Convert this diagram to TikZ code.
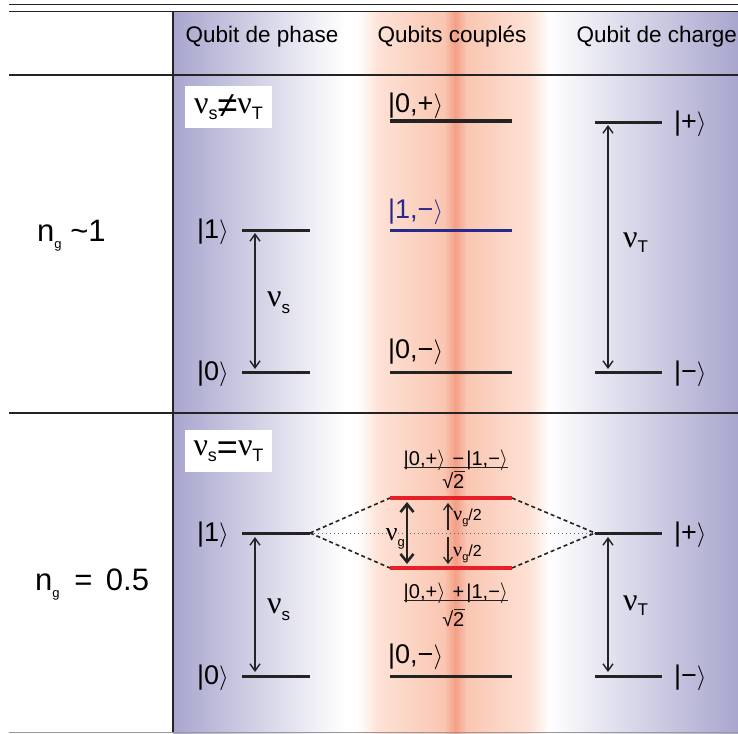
\documentclass[tikz,border=0pt]{standalone}
\usepackage{fontspec}
\setmainfont{Liberation Sans}
\newfontfamily\grk{Liberation Serif}
\usetikzlibrary{arrows.meta}
\definecolor{qblue}{RGB}{168,166,206}
\definecolor{qoA}{RGB}{253,226,214}
\definecolor{qoB}{RGB}{250,198,178}
\definecolor{qoC}{RGB}{243,158,133}
\definecolor{qred}{RGB}{230,32,40}
\definecolor{qnavy}{RGB}{38,42,140}
\definecolor{qline}{RGB}{35,35,35}
\newcommand\kt[1]{|#1$\rangle$}
\newcommand\nusub[4]{{\fontsize{#1}{#1}\grk ν}\raisebox{-#3pt}{\fontsize{#2}{#2}\selectfont #4}}
\begin{document}
\begin{tikzpicture}[x=1pt,y=-1pt,
 level/.style={line width=3pt,draw=qline},
 redlevel/.style={line width=3.6pt,draw=qred},
 bluelevel/.style={line width=3pt,draw=qnavy},
 frameline/.style={line width=1.5pt,draw=qline},
 dbl/.style={line width=1.4pt,draw=qline,{Straight Barb[length=7pt,width=10pt]}-{Straight Barb[length=7pt,width=10pt]}},
 dblthick/.style={line width=2.6pt,draw=qline,{Straight Barb[length=8pt,width=13pt]}-{Straight Barb[length=8pt,width=13pt]}},
 sarrow/.style={line width=1.2pt,draw=qline,-{Straight Barb[length=6pt,width=9pt]}},
 splitline/.style={line width=1.6pt,draw=qline,dash pattern=on 4pt off 3pt},
 midline/.style={line width=0.7pt,draw=black!60,dash pattern=on 1pt off 3pt},
 hdr/.style={font=\fontsize{22.5}{27}\selectfont,inner sep=0pt},
 ket/.style={font=\fontsize{27}{31}\selectfont,inner sep=0pt},
 ketblue/.style={ket,text=qnavy},
 nulbl/.style={font=\fontsize{32}{36}\selectfont,inner sep=0pt},
 ng/.style={font=\fontsize{31}{35}\selectfont,inner sep=0pt},
 fracpart/.style={font=\fontsize{20}{24}\selectfont,inner sep=0pt},
 fracnum/.style={fracpart,text depth=0pt},
 halflbl/.style={font=\fontsize{16}{20}\selectfont,inner sep=0pt},
 condbox/.style={fill=white,minimum width=87pt,minimum height=42pt,inner sep=0pt,font=\fontsize{32}{36}\selectfont}
]
\useasboundingbox (0,0) rectangle (738,733);
\fill[white] (0,0) rectangle (738,733);
% background shading
\shade[left color=qblue,right color=white] (173,12) rectangle (345,733);
\shade[left color=white,right color=qoA] (357,12) rectangle (378.5,733);
\shade[left color=qoA,right color=qoB] (378,12) rectangle (444.5,733);
\shade[left color=qoB,right color=qoC] (444,12) rectangle (455.5,733);
\shade[left color=qoC,right color=qoB] (455,12) rectangle (466.5,733);
\shade[left color=qoB,right color=qoA] (466,12) rectangle (530.5,733);
\shade[left color=qoA,right color=white] (530,12) rectangle (550,733);
\shade[left color=white,right color=qblue] (548,12) rectangle (738,733);
% frame
\draw[frameline] (9,4.5) -- (738,4.5);
\draw[frameline] (9,11.5) -- (738,11.5);
\draw[frameline] (9,75) -- (738,75);
\draw[frameline] (9,413) -- (738,413);
\draw[frameline] (173,11.5) -- (173,733);
\draw[line width=1pt,draw=black!40] (9,732) -- (738,732);
% headers
\node[hdr] (h1) at (262,37) {Qubit de phase};
\node[hdr] (h2) at (452,37) {Qubits couplés};
\node[hdr,anchor=east] (h3) at (737,37) {Qubit de charge};
% row labels
\node[ng,anchor=base west] (ng1) at (37,241) {n\raisebox{-7pt}{\fontsize{13}{13}\selectfont g} \textasciitilde1};
\node[ng,anchor=base west] (ng2) at (35,590) {n\raisebox{-7pt}{\fontsize{13}{13}\selectfont g}\hspace{6pt} =\hspace{5pt} 0.5};
% condition boxes
\node[condbox] (cb1) at (228.5,107) {\nusub{32}{18}{6}{s}\raisebox{-4pt}{\fontsize{36}{36}\selectfont ≠}\nusub{32}{18}{6}{T}};
\node[condbox] (cb2) at (228.5,451) {\nusub{32}{18}{6}{s}\raisebox{-4pt}{\fontsize{36}{36}\selectfont =}\nusub{32}{18}{6}{T}};
% ---------- top section coordinates
\coordinate (pa1) at (242,230); \coordinate (pb1) at (310,230);
\coordinate (pa0) at (242,372); \coordinate (pb0) at (310,372);
\coordinate (ca2) at (390,121); \coordinate (cb2) at (512,121);
\coordinate (ca1) at (390,230); \coordinate (cb1) at (512,230);
\coordinate (ca0) at (390,372); \coordinate (cb0) at (512,372);
\coordinate (ta1) at (595,122); \coordinate (tb1) at (662,122);
\coordinate (ta0) at (595,372); \coordinate (tb0) at (662,372);
\coordinate (pu) at (255,233); \coordinate (pd) at (255,369);
\coordinate (tu) at (608,125); \coordinate (td) at (608,369);
\draw[level] (pa1) -- (pb1);
\draw[level] (pa0) -- (pb0);
\draw[level] (ca2) -- (cb2);
\draw[bluelevel] (ca1) -- (cb1);
\draw[level] (ca0) -- (cb0);
\draw[level] (ta1) -- (tb1);
\draw[level] (ta0) -- (tb0);
\draw[dbl] (pu) -- (pd);
\draw[dbl] (tu) -- (td);
\node[ket,anchor=base east] (k1) at (229,238) {\kt{1}};
\node[ket,anchor=base east] (k0) at (229,380) {\kt{0}};
\node[ket,anchor=base west] (kc2) at (388,113) {\kt{0,+}};
\node[ketblue,anchor=base west] (kc1) at (388,218) {\kt{1,−}};
\node[ket,anchor=base west] (kc0) at (388,358) {\kt{0,−}};
\node[ket,anchor=base west] (kt1) at (674,130) {\kt{+}};
\node[ket,anchor=base west] (kt0) at (674,380) {\kt{−}};
\node[nulbl,anchor=base west] (nus1) at (267,306) {\nusub{32}{17}{7}{s}};
\node[nulbl,anchor=base west] (nut1) at (623,247) {\nusub{32}{17}{5}{T}};
% ---------- bottom section coordinates
\coordinate (qa1) at (242,533); \coordinate (qb1) at (310,533);
\coordinate (qa0) at (242,676); \coordinate (qb0) at (310,676);
\coordinate (ra2) at (390,498); \coordinate (rb2) at (512,498);
\coordinate (ra1) at (390,568); \coordinate (rb1) at (512,568);
\coordinate (ra0) at (390,676); \coordinate (rb0) at (512,676);
\coordinate (sa1) at (595,533); \coordinate (sb1) at (662,533);
\coordinate (sa0) at (595,676); \coordinate (sb0) at (662,676);
\coordinate (qu) at (255,537); \coordinate (qd) at (255,672);
\coordinate (su) at (608,537); \coordinate (sd) at (608,672);
\coordinate (gu) at (407,502); \coordinate (gd) at (407,564);
\coordinate (hu0) at (448,530); \coordinate (hu1) at (448,503);
\coordinate (hd0) at (448,537); \coordinate (hd1) at (448,564);
\draw[midline] (qb1) -- (sa1);
\draw[splitline] (qb1) -- (ra2);
\draw[splitline] (qb1) -- (ra1);
\draw[splitline] (rb2) -- (sa1);
\draw[splitline] (rb1) -- (sa1);
\draw[level] (qa1) -- (qb1);
\draw[level] (qa0) -- (qb0);
\draw[redlevel] (ra2) -- (rb2);
\draw[redlevel] (ra1) -- (rb1);
\draw[level] (ra0) -- (rb0);
\draw[level] (sa1) -- (sb1);
\draw[level] (sa0) -- (sb0);
\draw[dbl] (qu) -- (qd);
\draw[dbl] (su) -- (sd);
\draw[dblthick] (gu) -- (gd);
\draw[sarrow] (hu0) -- (hu1);
\draw[sarrow] (hd0) -- (hd1);
\node[ket,anchor=base east] (m1) at (229,541) {\kt{1}};
\node[ket,anchor=base east] (m0) at (229,684) {\kt{0}};
\node[ket,anchor=base west] (mc0) at (388,663) {\kt{0,−}};
\node[ket,anchor=base west] (mt1) at (674,541) {\kt{+}};
\node[ket,anchor=base west] (mt0) at (674,684) {\kt{−}};
\node[nulbl,anchor=base west] (nus2) at (267,613) {\nusub{32}{17}{7}{s}};
\node[nulbl,anchor=base west] (nut2) at (623,610) {\nusub{32}{17}{5}{T}};
\node[nulbl,anchor=base east] (nug) at (405,540) {\nusub{26}{13}{6}{g}};
\node[halflbl,anchor=base west] (hg1) at (453,520) {\nusub{20}{11}{4}{g}/2};
\node[halflbl,anchor=base west] (hg2) at (453,556) {\nusub{20}{11}{4}{g}/2};
% fractions
\node[fracnum,anchor=base west] (fn2a) at (403.5,465) {\kt{0,+}};
\node[fracnum,anchor=base west] (fn2b) at ([xshift=7pt]fn2a.base east) {−\hspace{2pt}\kt{1,−}};
\draw[line width=1.2pt,draw=qline] ([yshift=-2.5pt]fn2a.south west) -- ([yshift=-2.5pt]fn2b.south east);
\node[fracpart,anchor=base east] (fs2) at (453.5,488) {√};
\node[fracpart,anchor=base west] (fd2) at (453,488) {2};
\draw[line width=1pt,draw=qline] (fs2.north east) -- (fs2.north east -| fd2.east);
\node[fracnum,anchor=base west] (fn1a) at (403.5,598) {\kt{0,+}};
\node[fracnum,anchor=base west] (fn1b) at ([xshift=7pt]fn1a.base east) {+\hspace{2pt}\kt{1,−}};
\draw[line width=1.2pt,draw=qline] ([yshift=-2.5pt]fn1a.south west) -- ([yshift=-2.5pt]fn1b.south east);
\node[fracpart,anchor=base east] (fs1) at (453.5,626) {√};
\node[fracpart,anchor=base west] (fd1) at (453,626) {2};
\draw[line width=1pt,draw=qline] (fs1.north east) -- (fs1.north east -| fd1.east);
\end{tikzpicture}
\end{document}
